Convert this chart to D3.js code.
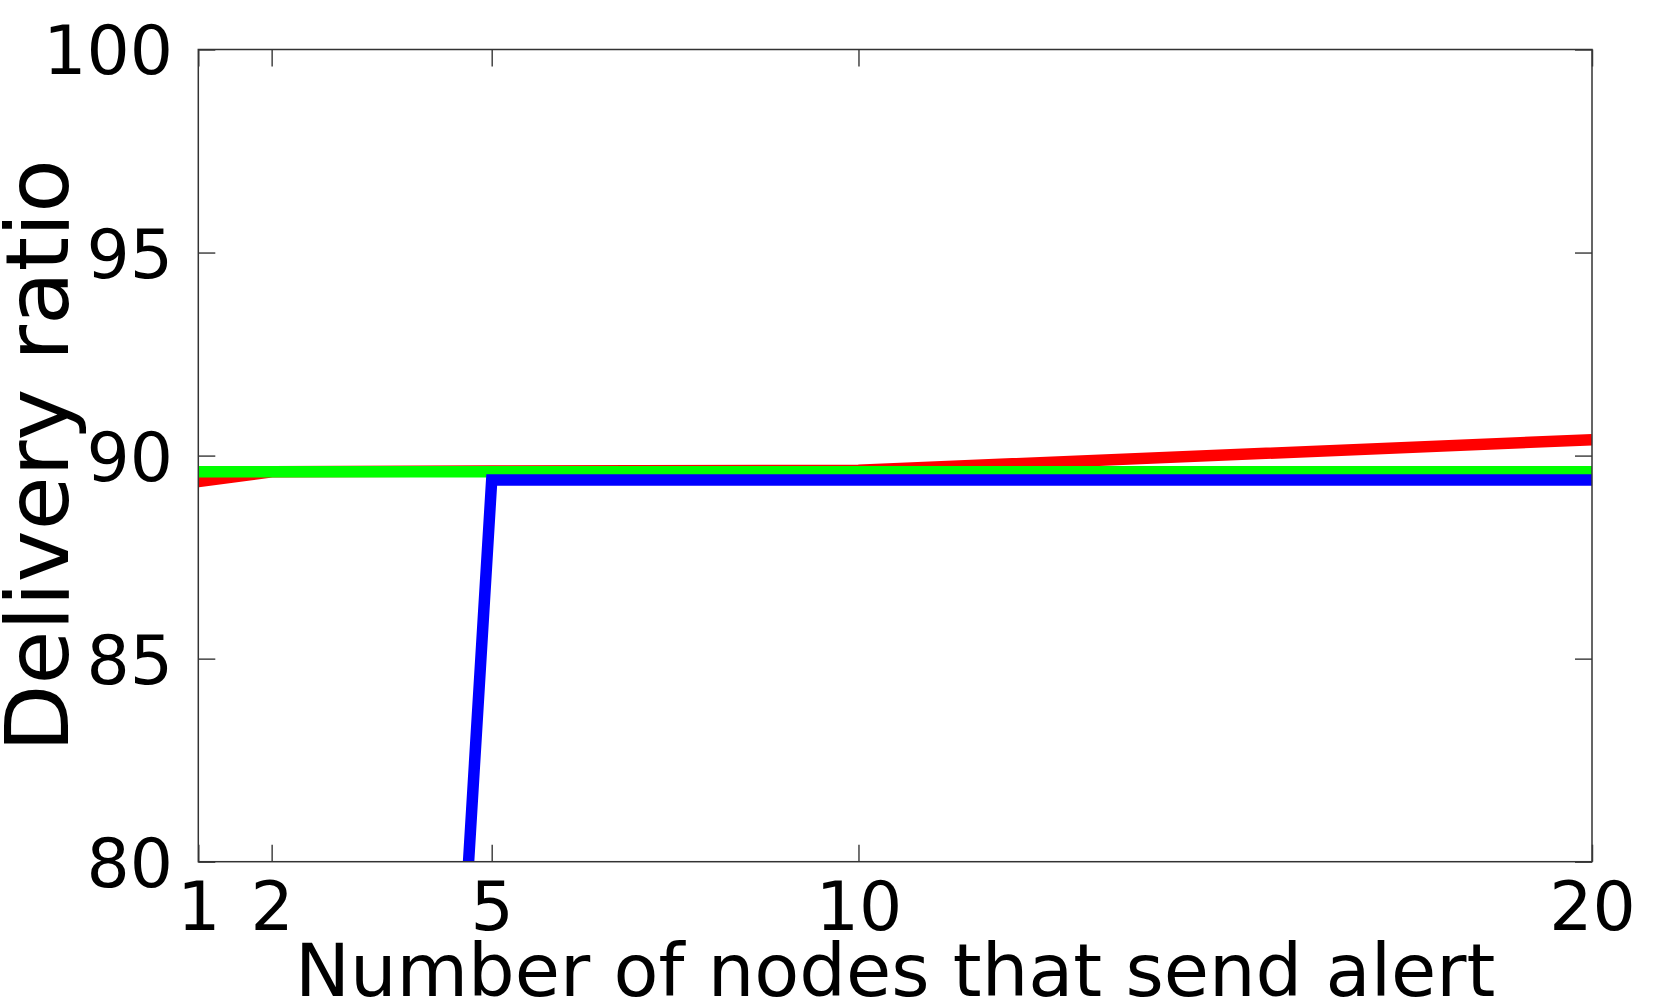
<!DOCTYPE html>
<html>
<head>
<meta charset="utf-8">
<script src="https://cdn.jsdelivr.net/npm/d3@7"></script>
<style>
html, body { margin: 0; padding: 0; background: #fff; }
svg { display: block; }
text { font-family: "DejaVu Sans", sans-serif; fill: #000; }
</style>
</head>
<body>
<svg id="chart" width="1661" height="997"></svg>
<script>
// Data
const xValues = [1, 2, 5, 10, 20];
const redSeries = [89.36, 89.6, 89.62, 89.64, 90.39];
const greenSeries = [89.6, 89.6, 89.6, 89.6, 89.6];
const blueSeries = [0, 0, 89.4, 89.4, 89.4];
const xTicks = [1, 2, 5, 10, 20];
const yTicks = [80, 85, 90, 95, 100];
const xLabel = "Number of nodes that send alert";
const yLabel = "Delivery ratio";

const W = 1661, H = 997;
const m = { left: 198.3, top: 49.5, right: W - 1592, bottom: H - 861.7 };
const svg = d3.select("#chart");

const x = d3.scaleLinear().domain([1, 20]).range([m.left, W - m.right]);
const y = d3.scaleLinear().domain([80, 100]).range([H - m.bottom, m.top]);

svg.append("defs").append("clipPath").attr("id", "plotclip")
  .append("rect")
  .attr("x", x(1)).attr("y", y(100))
  .attr("width", x(20) - x(1)).attr("height", y(80) - y(100));

const plot = svg.append("g").attr("clip-path", "url(#plotclip)");
const line = d3.line().x((d, i) => x(xValues[i])).y(d => y(d));

const series = [
  { data: redSeries, color: "#ff0000" },
  { data: greenSeries, color: "#00ff00" },
  { data: blueSeries, color: "#0000ff" }
];
series.forEach(s => {
  plot.append("path")
    .attr("d", line(s.data))
    .attr("fill", "none")
    .attr("stroke", s.color)
    .attr("stroke-width", 11.5)
    .attr("stroke-linejoin", "miter")
    .attr("stroke-linecap", "butt");
});

const tickLen = 17;
const tickColor = "#444";
// Axes with inward ticks (mirrored)
const axB = svg.append("g").attr("transform", `translate(0,${y(80)})`)
  .call(d3.axisBottom(x).tickValues(xTicks).tickSize(-tickLen).tickPadding(tickLen + 20).tickFormat(d3.format("d")));
const axT = svg.append("g").attr("transform", `translate(0,${y(100)})`)
  .call(d3.axisTop(x).tickValues(xTicks).tickSize(-tickLen).tickFormat(""));
const axL = svg.append("g").attr("transform", `translate(${x(1)},0)`)
  .call(d3.axisLeft(y).tickValues(yTicks).tickSize(-tickLen).tickPadding(tickLen + 25).tickFormat(d3.format("d")));
const axR = svg.append("g").attr("transform", `translate(${x(20)},0)`)
  .call(d3.axisRight(y).tickValues(yTicks).tickSize(-tickLen).tickFormat(""));

[axB, axT, axL, axR].forEach(a => {
  a.select(".domain").remove();
  a.selectAll(".tick line").attr("stroke", tickColor).attr("stroke-width", 1.5);
});
axB.selectAll(".tick text")
  .style("font-family", "DejaVu Sans").style("font-size", "68px").attr("fill", "#000")
  .attr("dy", null)
  .attr("y", 930 - y(80)).attr("dominant-baseline", "alphabetic");
axL.selectAll(".tick text")
  .style("font-family", "DejaVu Sans").style("font-size", "68px").attr("fill", "#000")
  .attr("x", -(x(1) - 173)).attr("dy", "0.36em");

// Border
svg.append("rect")
  .attr("x", x(1)).attr("y", y(100))
  .attr("width", x(20) - x(1)).attr("height", y(80) - y(100))
  .attr("fill", "none").attr("stroke", "#333").attr("stroke-width", 1.5);

// Axis titles
svg.append("text")
  .attr("transform", `translate(68,${(y(80) + y(100)) / 2}) rotate(-90)`)
  .attr("text-anchor", "middle")
  .style("font-size", "87.5px")
  .text(yLabel);
svg.append("text")
  .attr("x", (x(1) + x(20)) / 2).attr("y", 996)
  .attr("text-anchor", "middle")
  .style("font-size", "73.5px")
  .text(xLabel);
</script>
</body>
</html>
